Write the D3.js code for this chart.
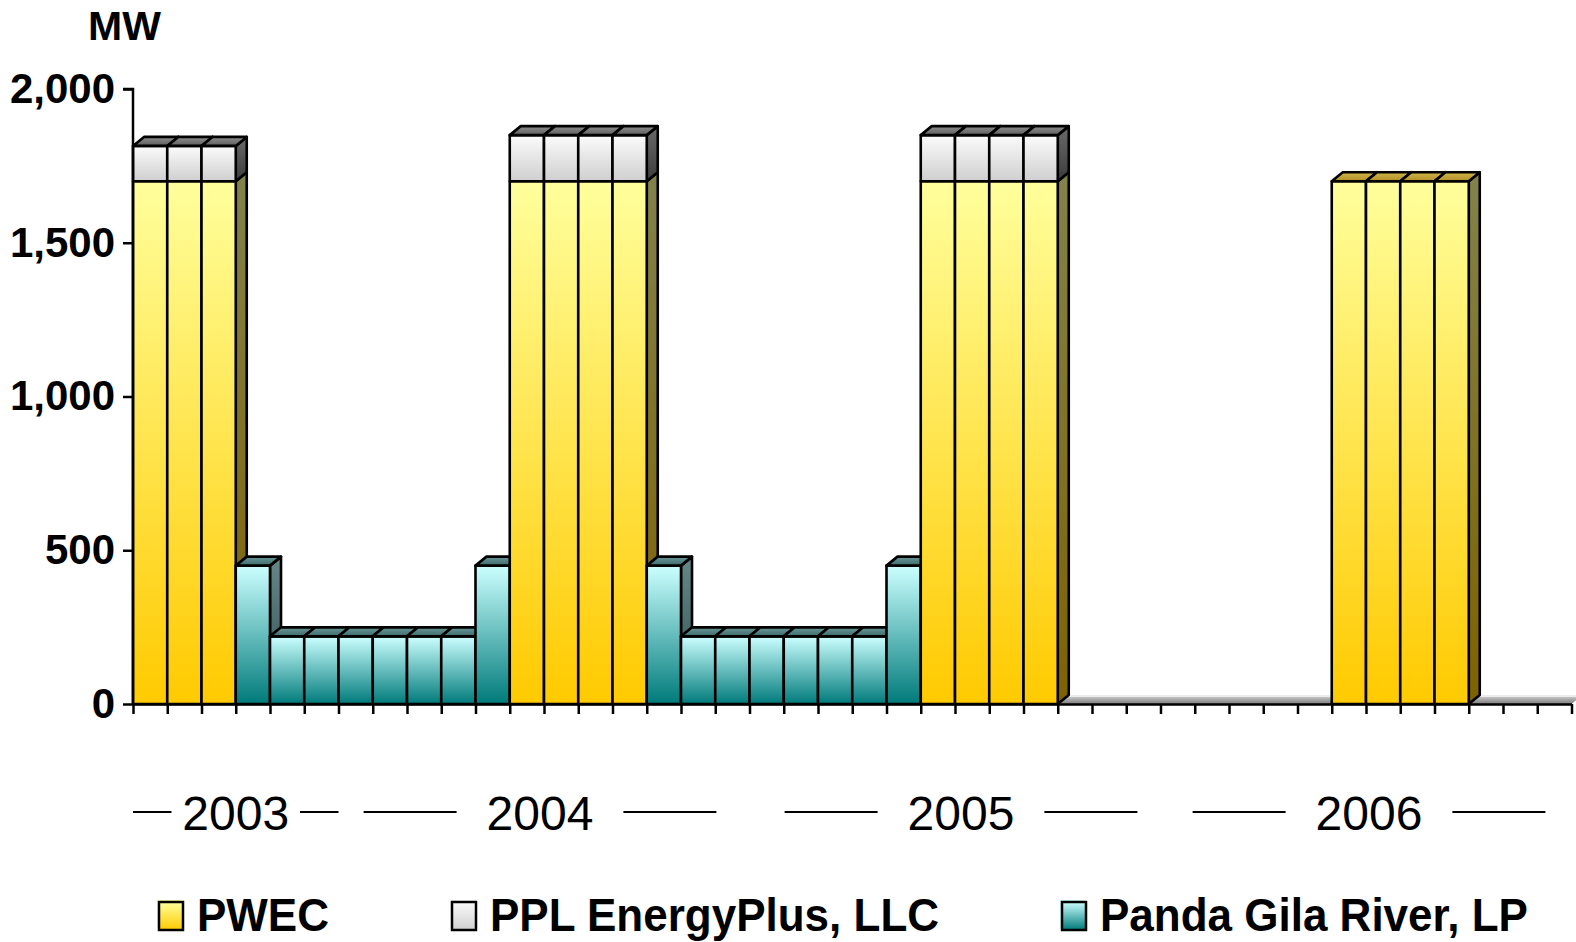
<!DOCTYPE html>
<html>
<head>
<meta charset="utf-8">
<script src="https://cdn.jsdelivr.net/npm/d3@7"></script>
<style>
  html, body { margin: 0; padding: 0; background: #fff; }
  svg { display: block; }
  text { font-family: "Liberation Sans", Arial, sans-serif; }
</style>
</head>
<body>
<svg id="chart" width="1576" height="942"></svg>
<script>
// ---------------- DATA ----------------
const monthLabels = [
  "Jul 2003","Aug 2003","Sep 2003","Oct 2003","Nov 2003","Dec 2003",
  "Jan 2004","Feb 2004","Mar 2004","Apr 2004","May 2004","Jun 2004","Jul 2004","Aug 2004","Sep 2004","Oct 2004","Nov 2004","Dec 2004",
  "Jan 2005","Feb 2005","Mar 2005","Apr 2005","May 2005","Jun 2005","Jul 2005","Aug 2005","Sep 2005","Oct 2005","Nov 2005","Dec 2005",
  "Jan 2006","Feb 2006","Mar 2006","Apr 2006","May 2006","Jun 2006","Jul 2006","Aug 2006","Sep 2006","Oct 2006","Nov 2006","Dec 2006"
];
const years = ["2003", "2004", "2005", "2006"];
const seriesNames = ["PWEC", "PPL EnergyPlus, LLC", "Panda Gila River, LP"];
const pwec = [1700,1700,1700,0,0,0,
  0,0,0,0,0,1700,1700,1700,1700,0,0,0,
  0,0,0,0,0,1700,1700,1700,1700,0,0,0,
  0,0,0,0,0,1700,1700,1700,1700,0,0,0];
const ppl = [115,115,115,0,0,0,
  0,0,0,0,0,150,150,150,150,0,0,0,
  0,0,0,0,0,150,150,150,150,0,0,0,
  0,0,0,0,0,0,0,0,0,0,0,0];
const panda = [0,0,0,450,220,220,
  220,220,220,220,450,0,0,0,0,450,220,220,
  220,220,220,220,450,0,0,0,0,0,0,0,
  0,0,0,0,0,0,0,0,0,0,0,0];
const yTicks = [0, 500, 1000, 1500, 2000];
const yUnit = "MW";

// ---------------- STYLE ----------------
const svg = d3.select("#chart");
const defs = svg.append("defs");
const DX = 11, DY = -9;

const styles = {
  "PWEC": {front: ["#ffff9c", "#ffca00"], side: ["#82824c", "#7e6200"], top: ["#d2b64a", "#b09028"]},
  "PPL EnergyPlus, LLC": {front: ["#fbfbfb", "#cfcfcf"], side: ["#6a6a6a", "#3c3c3c"], top: ["#8e8e8e", "#5e5e5e"]},
  "Panda Gila River, LP": {front: ["#ccffff", "#007a7a"], side: ["#668888", "#2c4e4e"], top: ["#6a9898", "#3e6a6a"]}
};
function grad(id, c0, c1) {
  const g = defs.append("linearGradient").attr("id", id)
    .attr("x1", 0).attr("y1", 0).attr("x2", 0).attr("y2", 1);
  g.append("stop").attr("offset", "0%").attr("stop-color", c0);
  g.append("stop").attr("offset", "100%").attr("stop-color", c1);
  return "url(#" + id + ")";
}
const fills = {};
seriesNames.forEach((s, k) => {
  fills[s] = {
    front: grad("f" + k, ...styles[s].front),
    side: grad("s" + k, ...styles[s].side),
    top: grad("t" + k, ...styles[s].top)
  };
});
const floorFill = grad("floor", "#d8d8d8", "#7c7c7c");

// ---------------- SCALES ----------------
const x = d3.scaleBand().domain(monthLabels).range([133, 1571.5]).paddingInner(0).paddingOuter(0);
const xi = d3.scaleLinear().domain([0, monthLabels.length]).range([133, 1571.5]);
const y = d3.scaleLinear().domain([0, 2000]).range([704, 89]);

const table = monthLabels.map((m, i) => ({month: m, "PWEC": pwec[i], "PPL EnergyPlus, LLC": ppl[i], "Panda Gila River, LP": panda[i]}));
const stacked = d3.stack().keys(seriesNames)(table);

// ---------------- FLOOR ----------------
const x0 = xi(0), x1 = xi(monthLabels.length), y0 = y(0);
svg.append("path")
  .attr("d", `M${x0},${y0}L${x1},${y0}L${x1 + DX},${y0 + DY}L${x0 + DX},${y0 + DY}Z`)
  .attr("fill", floorFill);
svg.append("line").attr("x1", x0 + DX).attr("x2", x1 + DX).attr("y1", y0 + DY + 1).attr("y2", y0 + DY + 1)
  .attr("stroke", "#ececec").attr("stroke-width", 2);

// ---------------- BARS ----------------
const barsG = svg.append("g");
monthLabels.forEach((m, i) => {
  const xl = x(m), xr = x(m) + x.bandwidth();
  const segs = stacked.map(s => ({key: s.key, y0: s[i][0], y1: s[i][1]})).filter(d => d.y1 > d.y0);
  segs.forEach((d, j) => {
    const yt = y(d.y1), yb = y(d.y0);
    const f = fills[d.key];
    const g = barsG.append("g").attr("stroke", "#000").attr("stroke-width", 2.6).attr("stroke-linejoin", "round");
    g.append("path")
      .attr("d", `M${xr},${yt}L${xr + DX},${yt + DY}L${xr + DX},${yb + DY}L${xr},${yb}Z`)
      .attr("fill", f.side);
    g.append("rect").attr("x", xl).attr("y", yt).attr("width", xr - xl).attr("height", yb - yt)
      .attr("fill", f.front);
    if (j === segs.length - 1) {
      g.append("path")
        .attr("d", `M${xl},${yt}L${xr},${yt}L${xr + DX},${yt + DY}L${xl + DX},${yt + DY}Z`)
        .attr("fill", f.top);
    }
  });
});

// ---------------- AXES ----------------
const yAxis = svg.append("g").attr("transform", `translate(${x0},0)`)
  .call(d3.axisLeft(y).tickValues(yTicks).tickSize(10).tickPadding(8).tickFormat(d3.format(",")));
yAxis.selectAll("path, line").attr("stroke", "#000").attr("stroke-width", 2.5);
yAxis.select(".domain").attr("d", `M-10,${y(2000)}H0V${y(0)}`);
yAxis.selectAll("text").attr("font-size", 42).attr("font-weight", "bold").attr("fill", "#000")
  .attr("font-family", "'Liberation Sans', Arial, sans-serif");

const xAxis = svg.append("g").attr("transform", `translate(0,${y0})`)
  .call(d3.axisBottom(xi).tickValues(d3.range(monthLabels.length + 1)).tickSize(10).tickSizeOuter(0).tickFormat(""));
xAxis.selectAll("path, line").attr("stroke", "#000").attr("stroke-width", 2.5);

svg.append("text").attr("x", 88).attr("y", 40).attr("font-size", 41).attr("font-weight", "bold").text(yUnit);

// ---------------- YEAR GROUP LABELS ----------------
const yearG = svg.append("g");
years.forEach((yr, k) => {
  const idx = monthLabels.map((m, i) => m.endsWith(yr) ? i : -1).filter(i => i >= 0);
  const gs = xi(idx[0]), ge = xi(idx[idx.length - 1] + 1);
  const cx = (gs + ge) / 2 + (k === 1 ? -4 : k === 2 ? 6 : k === 3 ? 3 : 0);
  const t = yearG.append("text").attr("x", cx).attr("y", 830).attr("text-anchor", "middle")
    .attr("font-size", 48).text(yr);
  const tw = t.node().getComputedTextLength();
  const avail = (ge - gs) / 2 - tw / 2;
  const gap = Math.min(30, avail * 0.22);
  const len = Math.min(93, avail - gap);
  [[cx - tw / 2 - gap - len, cx - tw / 2 - gap], [cx + tw / 2 + gap, cx + tw / 2 + gap + len]].forEach(([a, b]) => {
    yearG.append("line").attr("x1", a).attr("x2", b).attr("y1", 812).attr("y2", 812)
      .attr("stroke", "#000").attr("stroke-width", 2);
  });
});

// ---------------- LEGEND ----------------
const legendX = [159, 452, 1062];
const legG = svg.append("g");
seriesNames.forEach((s, k) => {
  const g = legG.append("g").attr("transform", `translate(${legendX[k]},902)`);
  g.append("rect").attr("x", -2).attr("y", -2).attr("width", 24).attr("height", 28)
    .attr("fill", styles[s].front[0]);
  g.append("rect").attr("x", 0).attr("y", 0).attr("width", 24).attr("height", 28)
    .attr("fill", fills[s].front).attr("stroke", "#000").attr("stroke-width", 2.5);
  g.append("text").attr("transform", "translate(38,29) scale(1,1.05)")
    .attr("font-size", 44).attr("font-weight", "bold").text(s);
});
</script>
</body>
</html>
